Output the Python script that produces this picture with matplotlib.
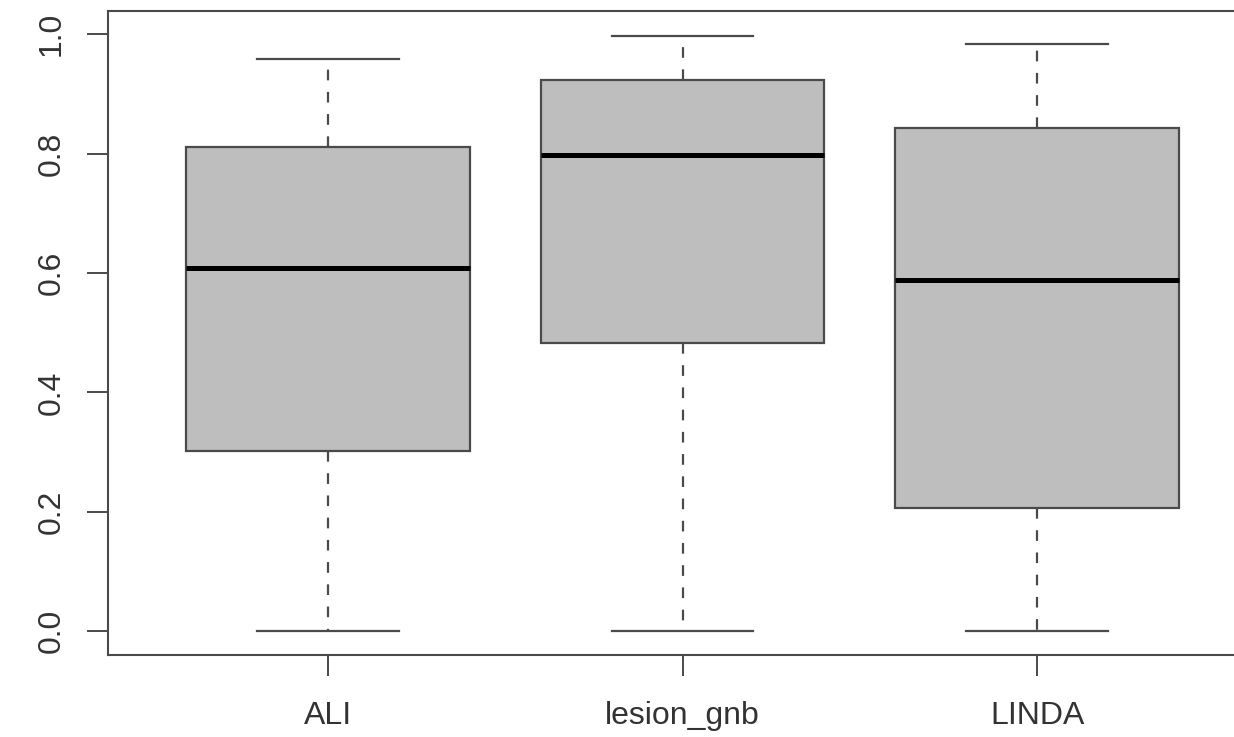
import matplotlib
matplotlib.use("Agg")
import matplotlib.pyplot as plt

categories = ["ALI", "lesion_gnb", "LINDA"]
whisker_low = [0.0, 0.0, 0.0]
q1 = [0.301, 0.483, 0.207]
median = [0.609, 0.798, 0.589]
q3 = [0.811, 0.923, 0.843]
whisker_high = [0.958, 0.997, 0.983]
yticks = [0.0, 0.2, 0.4, 0.6, 0.8, 1.0]
ytick_labels = ["0.0", "0.2", "0.4", "0.6", "0.8", "1.0"]

plt.rcParams['font.family'] = ['Liberation Sans', 'DejaVu Sans']

fig = plt.figure(figsize=(12.34, 7.37), dpi=100)
ax = fig.add_axes([108/1234, 1 - 655/737, (1257-108)/1234, (655-11)/737])

stats = []
for i, c in enumerate(categories):
    stats.append(dict(label=c, whislo=whisker_low[i], q1=q1[i], med=median[i],
                      q3=q3[i], whishi=whisker_high[i], fliers=[]))

edge = '#4a4a4a'
ax.bxp(stats, positions=[1, 2, 3], widths=0.8, capwidths=0.4, patch_artist=True,
       showfliers=False,
       boxprops=dict(facecolor='#bebebe', edgecolor=edge, linewidth=1.6),
       medianprops=dict(color='black', linewidth=3.6, solid_capstyle='butt'),
       whiskerprops=dict(color=edge, linewidth=1.6, linestyle=(0, (4.8, 5.2))),
       capprops=dict(color=edge, linewidth=1.6))

ax.set_xlim(0.38, 3.62)
ax.set_ylim(-0.04, 1.0388)
ax.set_yticks(yticks)
ax.set_yticklabels(ytick_labels, rotation=90, va='center')
ax.set_xticks([1, 2, 3])
ax.set_xticklabels(categories)
ax.tick_params(axis='both', direction='out', length=15, width=1.4, color=edge,
               labelsize=23, labelcolor='#333333')
ax.tick_params(axis='y', pad=15)
ax.tick_params(axis='x', pad=18)
for s in ax.spines.values():
    s.set_color(edge)
    s.set_linewidth(1.5)

fig.savefig("out.png", dpi=100)
